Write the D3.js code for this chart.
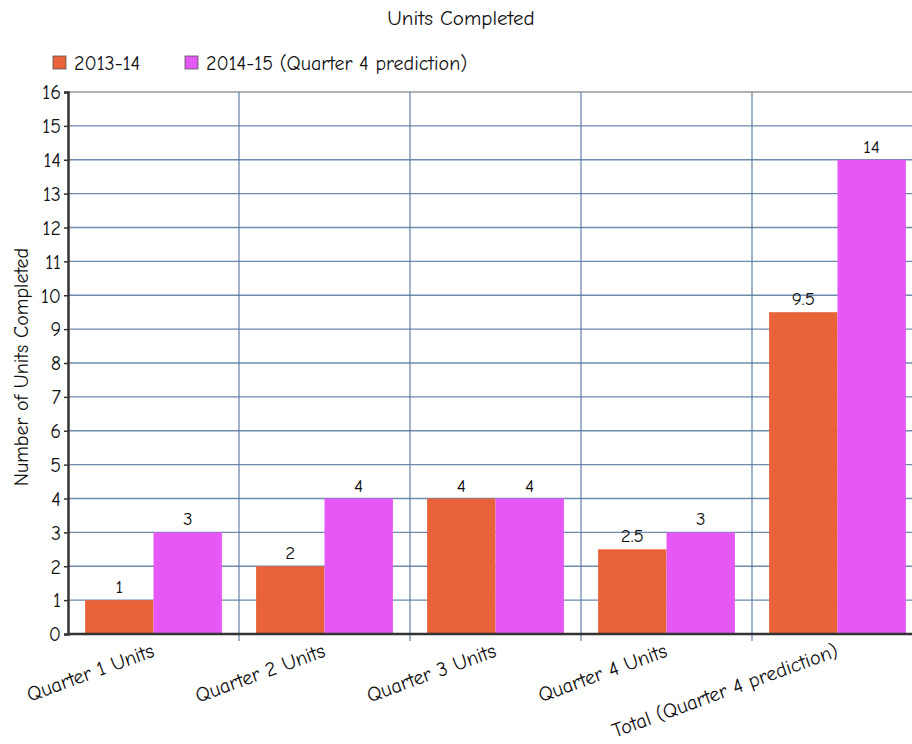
<!DOCTYPE html>
<html><head><meta charset="utf-8">
<script src="https://cdn.jsdelivr.net/npm/d3@7"></script>
<style>
body{margin:0;background:#fff;}
svg{display:block;font-family:"Comic Sans MS","Comic Neue",Lato,sans-serif;}
svg text{font-family:"Comic Sans MS","Comic Neue",Lato,sans-serif;}
</style></head>
<body><svg id="c" width="912" height="744"></svg>
<script>
const categories = ["Quarter 1 Units","Quarter 2 Units","Quarter 3 Units","Quarter 4 Units","Total (Quarter 4 prediction)"];
const seriesNames = ["2013-14","2014-15 (Quarter 4 prediction)"];
const values2013 = [1,2,4,2.5,9.5];
const values2014 = [3,4,4,3,14];
const yTicks = d3.range(0,17);
const colors = ["#E8623A","#E658F5"];

const svg = d3.select("#c");
const m = {left:68, top:92, right:923, bottom:634};
const x = d3.scaleBand().domain(categories).range([m.left,m.right]).paddingInner(0).paddingOuter(0);
const inner = d3.scaleBand().domain(seriesNames).range([0,x.bandwidth()]).paddingOuter(0.25).paddingInner(0);
const y = d3.scaleLinear().domain([0,16]).range([m.bottom,m.top]);

// title
svg.append("text").attr("x",461).attr("y",25).attr("text-anchor","middle").attr("font-size",21).attr("fill","#111").text("Units Completed");

// legend
const legX=[53,185];
seriesNames.forEach((s,i)=>{
  svg.append("rect").attr("x",legX[i]).attr("y",56).attr("width",13).attr("height",13).attr("fill",colors[i]).attr("stroke","#555").attr("stroke-width",0.8);
  svg.append("text").attr("x",legX[i]+21).attr("y",70).attr("font-size",20).attr("fill","#111").text(s);
});

// grid horizontal
svg.append("g").selectAll("line").data(yTicks.filter(d=>d>0&&d<16)).join("line")
  .attr("x1",m.left).attr("x2",m.right).attr("y1",d=>y(d)).attr("y2",d=>y(d))
  .attr("stroke","#5577a0").attr("stroke-width",1.3).attr("opacity",0.85);
// top border
svg.append("line").attr("x1",m.left).attr("x2",m.right).attr("y1",y(16)).attr("y2",y(16)).attr("stroke","#999").attr("stroke-width",1.5);
// vertical grid
svg.append("g").selectAll("line").data(categories.slice(1)).join("line")
  .attr("x1",d=>x(d)).attr("x2",d=>x(d)).attr("y1",m.top).attr("y2",m.bottom+7)
  .attr("stroke","#5577a0").attr("stroke-width",1.3).attr("opacity",0.85);

// bars
const series=[values2013,values2014];
series.forEach((vals,si)=>{
  svg.append("g").selectAll("rect").data(vals).join("rect")
    .attr("x",(d,i)=>x(categories[i])+inner(seriesNames[si]))
    .attr("y",d=>y(d)).attr("width",inner.bandwidth()).attr("height",d=>y(0)-y(d))
    .attr("fill",colors[si]);
  svg.append("g").selectAll("text").data(vals).join("text")
    .attr("x",(d,i)=>x(categories[i])+inner(seriesNames[si])+inner.bandwidth()/2)
    .attr("y",d=>y(d)-7).attr("text-anchor","middle").attr("font-size",19).attr("fill","#111")
    .text(d=>d);
});

// y axis
const ya = svg.append("g").attr("transform",`translate(${m.left},0)`)
  .call(d3.axisLeft(y).tickValues(yTicks).tickSize(4).tickPadding(3).tickFormat(d3.format("d")));
ya.attr("font-family",null);
ya.select(".domain").attr("stroke","#333").attr("stroke-width",2.5);
ya.selectAll(".tick line").attr("stroke","#333").attr("stroke-width",1.5);
ya.selectAll(".tick text").attr("font-size",20).attr("fill","#111").attr("dy","0.34em");

// x axis line
svg.append("line").attr("x1",m.left).attr("x2",m.right).attr("y1",m.bottom).attr("y2",m.bottom).attr("stroke","#333").attr("stroke-width",2.5);

// x labels
svg.append("g").selectAll("text").data(categories).join("text")
  .attr("transform",d=>`translate(${x(d)+x.bandwidth()/2+2},${m.bottom+22}) rotate(-20)`)
  .attr("text-anchor","end").attr("font-size",20.5).attr("fill","#111").text(d=>d);

// y title
svg.append("text").attr("transform",`translate(28,367) rotate(-90)`).attr("text-anchor","middle")
  .attr("font-size",20).attr("fill","#111").text("Number of Units Completed");
</script></body></html>
